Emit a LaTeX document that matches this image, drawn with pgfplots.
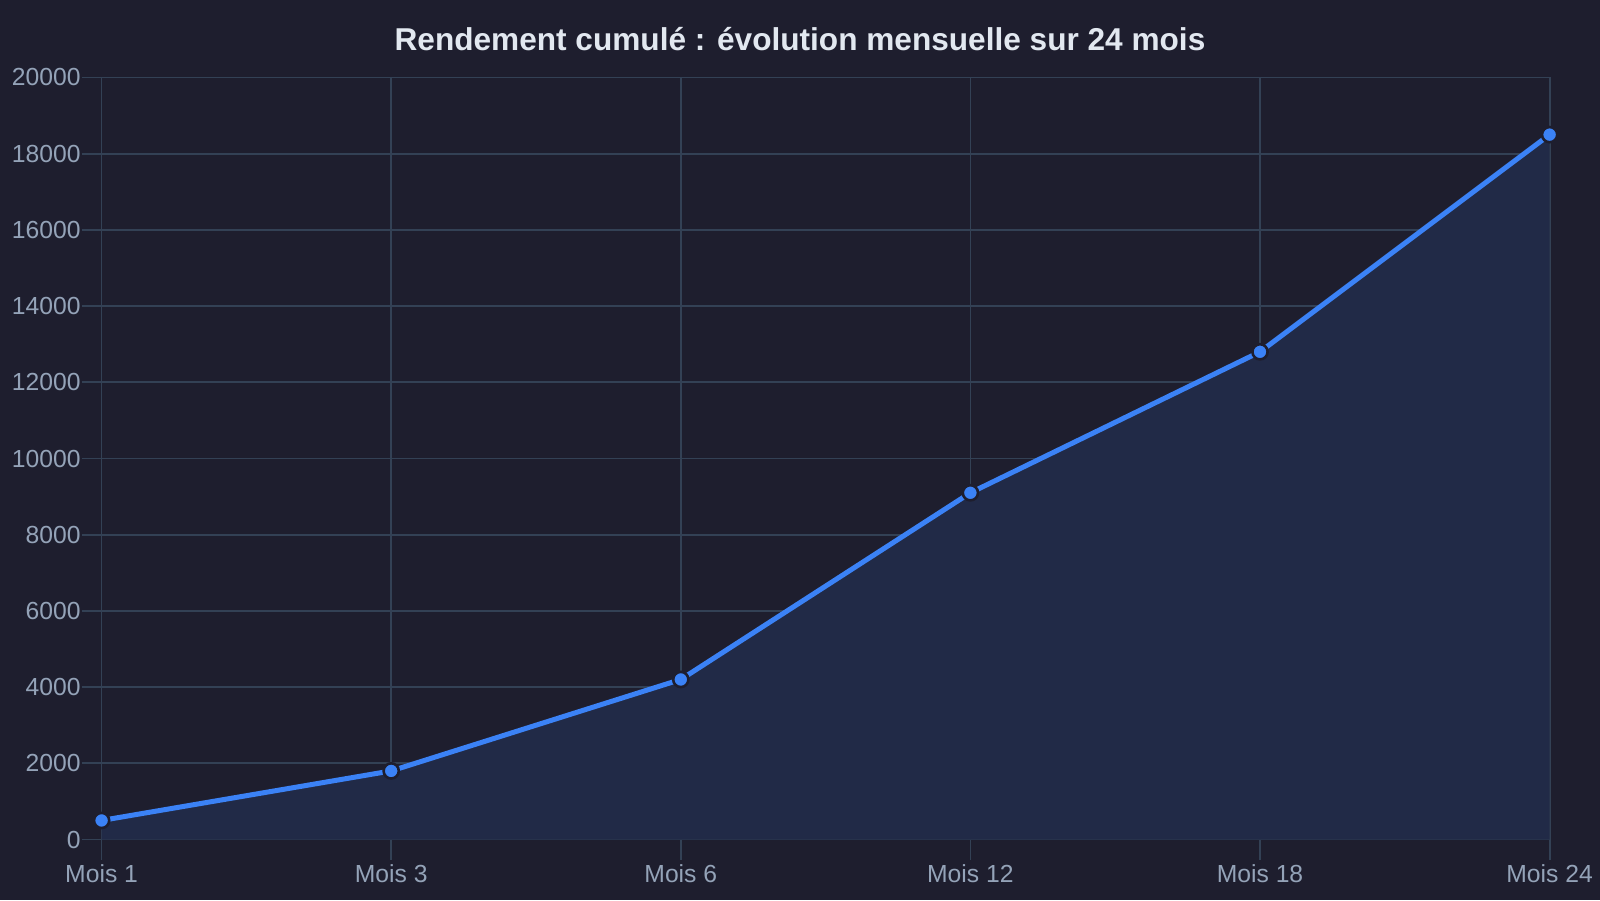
\documentclass[border=0pt]{standalone}
\usepackage{pgfplots}
\pgfplotsset{compat=1.18}
\usepackage{fontspec}
\setmainfont{Liberation Sans}
\definecolor{bg}{HTML}{1E1E2E}
\definecolor{gridc}{HTML}{334155}
\definecolor{tickc}{HTML}{94A3B8}
\definecolor{titlec}{HTML}{E2E8F0}
\definecolor{linec}{HTML}{3B82F6}
\definecolor{fillc}{HTML}{212A47}
\begin{document}
\begin{tikzpicture}
\useasboundingbox (0,0) rectangle (800pt,450pt);
\fill[bg] (0,0) rectangle (800pt,450pt);
\node[font=\fontsize{15.8}{19}\selectfont\bfseries, text=titlec] at (400pt,430.6pt) {Rendement cumulé : évolution mensuelle sur 24 mois};
\begin{axis}[
  at={(50.8pt,30.25pt)}, anchor=south west,
  scale only axis, width=724pt, height=381pt,
  xmin=0, xmax=5, ymin=0, ymax=20000,
  xtick={0,1,2,3,4,5},
  xticklabels={Mois 1,Mois 3,Mois 6,Mois 12,Mois 18,Mois 24},
  ytick={0,2000,...,20000},
  xtick pos=bottom, ytick pos=left,
  /pgf/number format/assume math mode=true,
  yticklabel style={/pgf/number format/fixed, /pgf/number format/1000 sep={}},
  scaled y ticks=false,
  tick label style={font=\fontsize{12.35}{14}\selectfont, text=tickc},
  xticklabel style={yshift=1pt},
  yticklabel style={xshift=3pt},
  grid=major,
  grid style={gridc, line width=0.9pt},
  axis line style={gridc, line width=0.9pt},
  major tick style={gridc, line width=0.9pt},
  tick align=outside, major tick length=10pt,
  clip=false,
]
\addplot[fill=fillc, draw=none] coordinates {(0,500) (1,1800) (2,4200) (3,9100) (4,12800) (5,18500)} \closedcycle;
\addplot[linec, line width=2.5pt, mark=*, mark size=3.8pt, mark options={fill=linec, draw=bg, line width=1.3pt}] coordinates {(0,500) (1,1800) (2,4200) (3,9100) (4,12800) (5,18500)};
\end{axis}
\end{tikzpicture}
\end{document}
